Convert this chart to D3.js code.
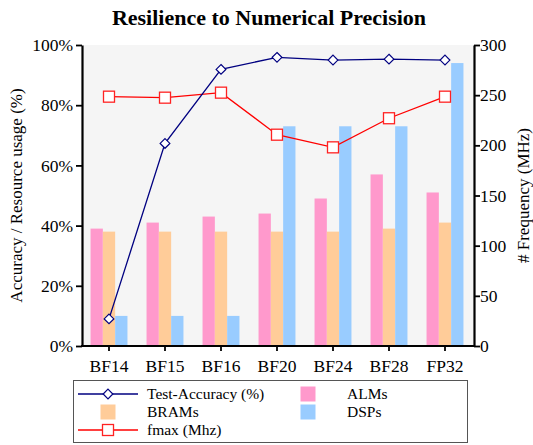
<!DOCTYPE html>
<html>
<head>
<meta charset="utf-8">
<script src="https://cdn.jsdelivr.net/npm/d3@7"></script>
<style>
  body { margin: 0; background: #fff; }
  svg text { font-family: "Liberation Serif", "DejaVu Serif", serif; }
</style>
</head>
<body>
<svg id="chart"></svg>
<script>
var categories = ["BF14", "BF15", "BF16", "BF20", "BF24", "BF28", "FP32"];
var alms = [39, 41, 43, 44, 49, 57, 51];
var brams = [38, 38, 38, 38, 38, 39, 41];
var dsps = [10, 10, 10, 73, 73, 73, 94];
var accuracy = [9, 67.3, 91.9, 95.9, 95.0, 95.3, 95.0];
var fmax = [248.5, 247.5, 252.5, 210.6, 198, 227, 248.5];
var leftTicks = [0, 20, 40, 60, 80, 100];
var rightTicks = [0, 50, 100, 150, 200, 250, 300];

var svgWidth = 533;
var svgHeight = 445;
var plotLeft = 82, plotRight = 474, plotTop = 45, plotBottom = 346;

var svg = d3.select("#chart")
    .attr("width", svgWidth)
    .attr("height", svgHeight);

// plot background
svg.append("rect")
    .attr("x", plotLeft)
    .attr("y", plotTop)
    .attr("width", plotRight - plotLeft)
    .attr("height", plotBottom - plotTop)
    .style("fill", "#f5f5f5");

var xScale = d3.scaleBand()
    .domain(categories)
    .range([plotLeft - 1, plotRight - 1]);

var yScale = d3.scaleLinear()
    .domain([0, 100])
    .range([plotBottom, plotTop]);

var y2Scale = d3.scaleLinear()
    .domain([0, 300])
    .range([plotBottom, plotTop]);

var barW = 12.3;
var barSeries = [
    {name: "ALMs", values: alms, color: "#ff99cc", offset: -1.5},
    {name: "BRAMs", values: brams, color: "#ffcc99", offset: -0.5},
    {name: "DSPs", values: dsps, color: "#99ccff", offset: 0.5}
];

barSeries.forEach(function(s){
    svg.append("g")
        .selectAll("rect")
        .data(s.values)
        .enter()
        .append("rect")
        .attr("x", function(d, i){ return xScale(categories[i]) + xScale.bandwidth()/2 + s.offset * barW; })
        .attr("y", function(d){ return yScale(d); })
        .attr("width", barW)
        .attr("height", function(d){ return plotBottom - yScale(d); })
        .style("fill", s.color);
});

var cx = function(i){ return xScale(categories[i]) + xScale.bandwidth()/2; };

// fmax line
svg.append("path")
    .datum(fmax)
    .attr("fill", "none")
    .attr("stroke", "#ff0000")
    .attr("stroke-width", 1.3)
    .attr("d", d3.line()
        .x(function(d, i){ return cx(i); })
        .y(function(d){ return y2Scale(d); }));

svg.append("g")
    .selectAll("rect")
    .data(fmax)
    .enter()
    .append("rect")
    .attr("x", function(d, i){ return cx(i) - 5.5; })
    .attr("y", function(d){ return y2Scale(d) - 5.5; })
    .attr("width", 11)
    .attr("height", 11)
    .style("fill", "#fff")
    .style("stroke", "#ff2222")
    .style("stroke-width", 1.3);

// accuracy line
svg.append("path")
    .datum(accuracy)
    .attr("fill", "none")
    .attr("stroke", "#000080")
    .attr("stroke-width", 1.3)
    .attr("d", d3.line()
        .x(function(d, i){ return cx(i); })
        .y(function(d){ return yScale(d); }));

var diamond = d3.symbol().type(d3.symbolDiamond2).size(60);
svg.append("g")
    .selectAll("path")
    .data(accuracy)
    .enter()
    .append("path")
    .attr("d", diamond)
    .attr("transform", function(d, i){ return "translate(" + cx(i) + "," + yScale(d) + ")"; })
    .style("fill", "#fff")
    .style("stroke", "#000080")
    .style("stroke-width", 1.2);

// axes
var xAxis = svg.append("g")
    .attr("transform", "translate(0," + plotBottom + ")")
    .call(d3.axisBottom(xScale).tickSizeInner(5).tickSizeOuter(0));

var yAxis = svg.append("g")
    .attr("transform", "translate(" + plotLeft + ",0)")
    .call(d3.axisLeft(yScale).tickValues(leftTicks).tickSizeInner(6).tickSizeOuter(0)
        .tickFormat(function(d){ return d + "%"; }));

var y2Axis = svg.append("g")
    .attr("transform", "translate(" + plotRight + ",0)")
    .call(d3.axisRight(y2Scale).tickValues(rightTicks).tickSizeInner(6).tickSizeOuter(0));

[xAxis, yAxis, y2Axis].forEach(function(a){
    a.attr("font-family", "Liberation Serif, serif");
    a.select(".domain").attr("stroke-width", 2.2);
    a.selectAll(".tick line").attr("stroke-width", 1.8);
    a.selectAll(".tick text")
        .attr("font-size", "17.5px")
        .attr("fill", "#000");
});
xAxis.select(".domain").attr("d", "M" + (plotLeft - 1) + ",0H" + (plotRight + 1));
xAxis.selectAll(".tick text").attr("dy", "1.0em");
yAxis.selectAll(".tick text").attr("x", -9);
y2Axis.selectAll(".tick text").attr("x", 6);

// title and axis labels
svg.append("text")
    .attr("x", 269)
    .attr("y", 25)
    .attr("text-anchor", "middle")
    .attr("font-size", "22px")
    .attr("font-weight", "bold")
    .text("Resilience to Numerical Precision");

svg.append("text")
    .attr("transform", "translate(22," + ((plotTop + plotBottom)/2) + ") rotate(-90)")
    .attr("text-anchor", "middle")
    .attr("font-size", "17px")
    .text("Accuracy / Resource usage (%)");

svg.append("text")
    .attr("transform", "translate(529," + ((plotTop + plotBottom)/2) + ") rotate(-90)")
    .attr("text-anchor", "middle")
    .attr("font-size", "17px")
    .text("# Frequency (MHz)");

// legend
var legend = svg.append("g");
legend.append("rect")
    .attr("x", 73.5)
    .attr("y", 380.5)
    .attr("width", 394)
    .attr("height", 62)
    .style("fill", "#fff")
    .style("stroke", "#555")
    .style("stroke-width", 1);

var legendRows = [394, 412, 430];
var legendItems = [
    {label: "Test-Accuracy (%)", kind: "acc", col: 0, row: 0},
    {label: "BRAMs", kind: "bar", color: "#ffcc99", col: 0, row: 1},
    {label: "fmax (Mhz)", kind: "fmax", col: 0, row: 2},
    {label: "ALMs", kind: "bar", color: "#ff99cc", col: 1, row: 0},
    {label: "DSPs", kind: "bar", color: "#99ccff", col: 1, row: 1}
];
legendItems.forEach(function(it){
    var y = legendRows[it.row];
    var sx = it.col == 0 ? 78 : 278;
    var tx = it.col == 0 ? 147 : 347;
    var mid = sx + 30;
    if (it.kind == "bar") {
        legend.append("rect")
            .attr("x", mid - 7.5)
            .attr("y", y - 7.5)
            .attr("width", 15)
            .attr("height", 15)
            .style("fill", it.color);
    } else if (it.kind == "acc") {
        legend.append("line")
            .attr("x1", sx).attr("x2", sx + 60).attr("y1", y).attr("y2", y)
            .attr("stroke", "#000080").attr("stroke-width", 1.3);
        legend.append("path")
            .attr("d", diamond)
            .attr("transform", "translate(" + mid + "," + y + ")")
            .style("fill", "#fff").style("stroke", "#000080").style("stroke-width", 1.2);
    } else {
        legend.append("line")
            .attr("x1", sx).attr("x2", sx + 60).attr("y1", y).attr("y2", y)
            .attr("stroke", "#ff0000").attr("stroke-width", 1.3);
        legend.append("rect")
            .attr("x", mid - 5.5).attr("y", y - 5.5).attr("width", 11).attr("height", 11)
            .style("fill", "#fff").style("stroke", "#ff2222").style("stroke-width", 1.3);
    }
    legend.append("text")
        .attr("x", tx)
        .attr("y", y + 5)
        .attr("font-size", "15.5px")
        .text(it.label);
});
</script>
</body>
</html>
